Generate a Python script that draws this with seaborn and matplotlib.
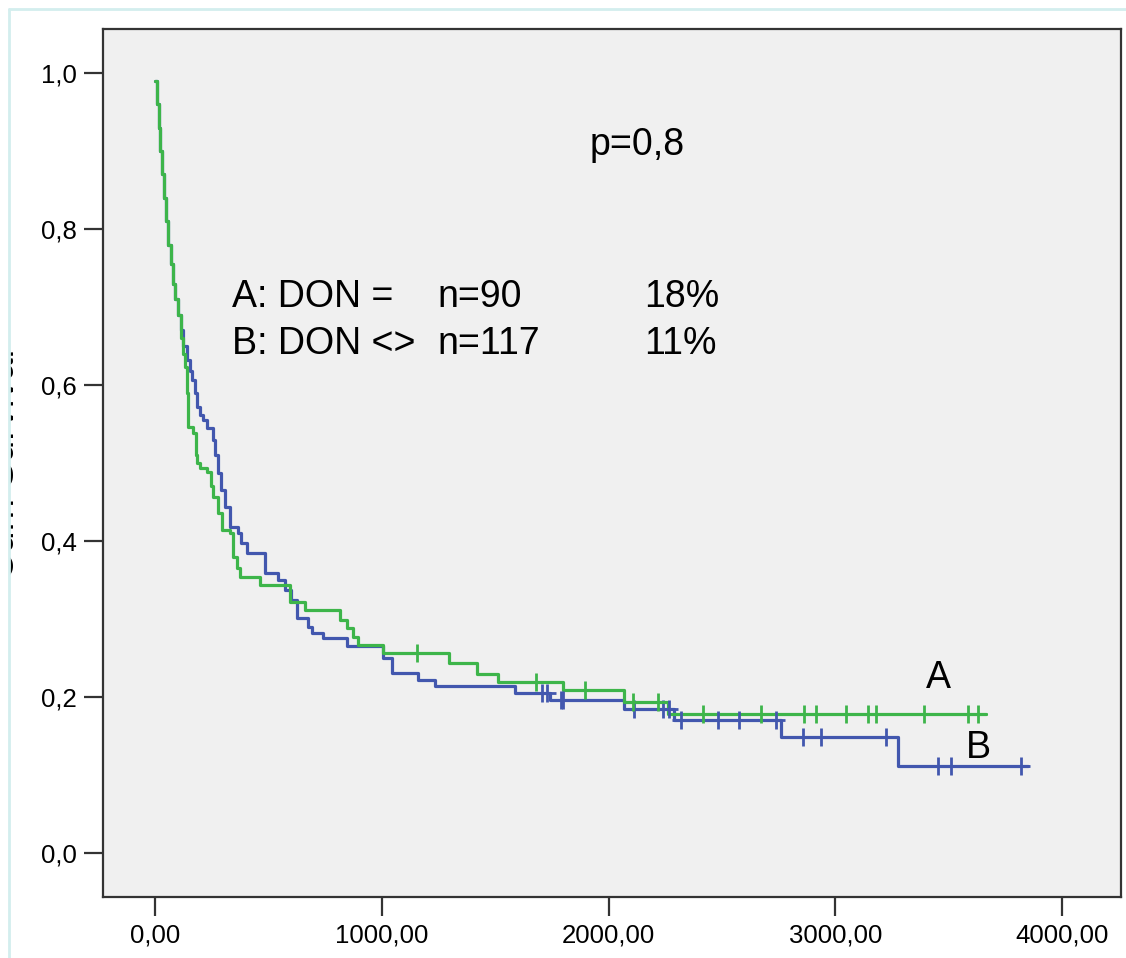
import numpy as np
import pandas as pd
import matplotlib
matplotlib.use('Agg')
import matplotlib.pyplot as plt
from matplotlib.ticker import FuncFormatter
from matplotlib.lines import Line2D
from matplotlib.patches import Rectangle
import seaborn as sns

# Kaplan-Meier steps (time, survival after the event)
time_a = [0, 8, 15, 22, 30, 40, 48, 58, 68, 78, 88, 100, 112, 122, 132, 140, 146, 168, 178,
          185, 200, 230, 245, 256, 278, 296, 330, 344, 360, 375, 464, 596, 662, 817, 847,
          874, 896, 1007, 1294, 1421, 1514, 1801, 2066, 2260]
surv_a = [0.99, 0.96, 0.93, 0.90, 0.87, 0.84, 0.81, 0.78, 0.755, 0.73, 0.71, 0.69, 0.66, 0.64,
          0.623, 0.59, 0.546, 0.538, 0.51, 0.50, 0.493, 0.488, 0.47, 0.456, 0.436, 0.414, 0.41,
          0.38, 0.365, 0.354, 0.344, 0.322, 0.311, 0.299, 0.288, 0.277, 0.267, 0.256, 0.243,
          0.23, 0.219, 0.209, 0.194, 0.178]
end_a = 3664
cens_a = [1157, 1678, 1898, 2106, 2216, 2415, 2671, 2861, 2914, 3046, 3143, 3179, 3391,
          3585, 3629]

time_b = [0, 8, 15, 22, 30, 40, 48, 58, 68, 78, 88, 100, 112, 125, 141, 152, 163, 175, 185,
          200, 212, 230, 256, 265, 278, 292, 309, 331, 366, 380, 406, 486, 543, 574, 600,
          627, 675, 690, 742, 847, 1007, 1045, 1161, 1236, 1589, 1740, 2066, 2287, 2759, 3276]
surv_b = [0.99, 0.96, 0.93, 0.90, 0.87, 0.84, 0.81, 0.78, 0.755, 0.73, 0.71, 0.69, 0.67, 0.65,
          0.632, 0.618, 0.606, 0.59, 0.572, 0.562, 0.555, 0.545, 0.529, 0.51, 0.487, 0.466,
          0.444, 0.418, 0.41, 0.397, 0.385, 0.359, 0.35, 0.337, 0.324, 0.301, 0.29, 0.282,
          0.276, 0.265, 0.25, 0.231, 0.222, 0.214, 0.205, 0.196, 0.185, 0.17, 0.149, 0.112]
end_b = 3850
cens_b = [1708, 1730, 1790, 1801, 2110, 2238, 2265, 2318, 2481, 2574, 2737, 2856, 2936,
          3223, 3452, 3510, 3819]

groups = ['B', 'A']  # green drawn on top
colors = {'A': '#3db54a', 'B': '#4257ae'}
y_ticks = [0.0, 0.2, 0.4, 0.6, 0.8, 1.0]
x_ticks = [0, 1000, 2000, 3000, 4000]

curves = {'A': (time_a, surv_a, end_a, cens_a), 'B': (time_b, surv_b, end_b, cens_b)}

steps, marks = [], []
for g in groups:
    t, s, end, cens = curves[g]
    steps.append(pd.DataFrame({'time': list(t) + [end], 'surv': list(s) + [s[-1]], 'group': g}))
    idx = np.searchsorted(t, cens, side='right') - 1
    marks.append(pd.DataFrame({'time': cens, 'surv': np.array(s)[idx], 'group': g}))
steps = pd.concat(steps, ignore_index=True)
marks = pd.concat(marks, ignore_index=True)

sns.set_style('white')
plt.rcParams['font.family'] = ['Liberation Sans', 'DejaVu Sans']
plt.rcParams['text.color'] = 'black'
plt.rcParams['xtick.color'] = 'black'
plt.rcParams['ytick.color'] = 'black'

fig = plt.figure(figsize=(11.26, 9.58), dpi=100)
ax = fig.add_axes([103 / 1126, 1 - 897 / 958, (1121 - 103) / 1126, (897 - 29) / 958])
ax.set_facecolor('#f0f0f0')

sns.lineplot(data=steps, x='time', y='surv', hue='group', hue_order=groups, palette=colors,
             drawstyle='steps-post', linewidth=2.3, legend=False, ax=ax, estimator=None,
             sort=False)
for g in groups:
    m = marks[marks['group'] == g]
    ax.plot(m['time'], m['surv'], linestyle='none', marker='+', markersize=13,
            markeredgewidth=2, color=colors[g])

ax.set_xlim(-230, 4260)
ax.set_ylim(-0.0564, 1.0564)
ax.set_xticks(x_ticks)
ax.set_yticks(y_ticks)
ax.xaxis.set_major_formatter(FuncFormatter(lambda v, p: f"{v:.2f}".replace('.', ',')))
ax.yaxis.set_major_formatter(FuncFormatter(lambda v, p: f"{v:.1f}".replace('.', ',')))
ax.tick_params(axis='both', direction='out', length=14, width=1.6, color='#333333',
               labelsize=18.5, pad=5, left=True, bottom=True)
ax.set_xlabel('')
ax.set_ylabel('')
for sp in ax.spines.values():
    sp.set_color('#333333')
    sp.set_linewidth(1.6)

ax.text(1917, 0.908, 'p=0,8', fontsize=27, va='center')
ax.text(340, 0.713, 'A: DON =', fontsize=27, va='center')
ax.text(1245, 0.713, 'n=90', fontsize=27, va='center')
ax.text(2155, 0.713, '18%', fontsize=27, va='center')
ax.text(340, 0.653, 'B: DON <>', fontsize=27, va='center')
ax.text(1245, 0.653, 'n=117', fontsize=27, va='center')
ax.text(2155, 0.653, '11%', fontsize=27, va='center')
ax.text(3400, 0.224, 'A', fontsize=27, va='center')
ax.text(3576, 0.135, 'B', fontsize=27, va='center')

# y label is mostly cut off at the left edge in the reference
fig.text(22 / 1126, 0.515, 'Cum Survival', rotation=90, ha='right', va='center',
         fontsize=28, zorder=3)
fig.add_artist(Rectangle((0, 0), 10 / 1126, 1, transform=fig.transFigure,
                         facecolor='white', edgecolor='none', zorder=4))

# thin light frame around the whole picture
fig.add_artist(Line2D([9 / 1126, 9 / 1126], [0, 1 - 9 / 958], color='#d3eeee', linewidth=2,
                      zorder=5))
fig.add_artist(Line2D([9 / 1126, 1], [1 - 9 / 958, 1 - 9 / 958], color='#d3eeee', linewidth=2,
                      zorder=5))

fig.savefig('out.png', dpi=100)
